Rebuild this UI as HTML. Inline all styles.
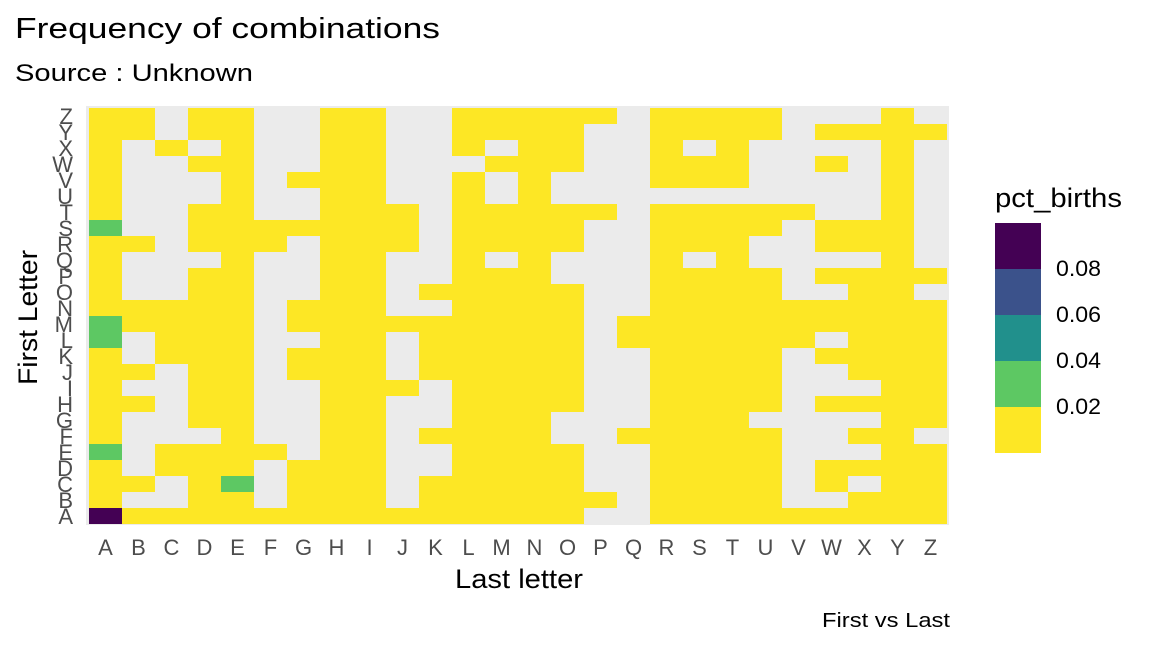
<!DOCTYPE html>
<html><head><meta charset="utf-8">
<style>
html,body{margin:0;padding:0;background:#fff;}
svg{display:block;font-family:"Liberation Sans",sans-serif;}
</style></head>
<body>
<svg id="chart" width="1152" height="648" viewBox="0 0 1152 648" xmlns="http://www.w3.org/2000/svg">
<text x="15" y="38" font-size="29" textLength="425" lengthAdjust="spacingAndGlyphs" fill="#000">Frequency of combinations</text>
<text x="15" y="81" font-size="24" textLength="238" lengthAdjust="spacingAndGlyphs" fill="#000">Source : Unknown</text>
<rect x="86" y="106" width="863" height="419" fill="#ebebeb"/>
<g id="cells"></g>
<g id="xticks"></g>
<g id="yticks"></g>
<text x="455" y="588" font-size="27" textLength="128" lengthAdjust="spacingAndGlyphs" fill="#000">Last letter</text>
<text transform="translate(37,385) rotate(-90)" font-size="27" textLength="135" lengthAdjust="spacingAndGlyphs" fill="#000">First Letter</text>
<text x="822" y="627" font-size="20" textLength="128" lengthAdjust="spacingAndGlyphs" fill="#000">First vs Last</text>
<text x="995" y="207" font-size="27" textLength="127" lengthAdjust="spacingAndGlyphs" fill="#000">pct_births</text>
<g id="legend"></g>
</svg>
<script>
const letters = ["A","B","C","D","E","F","G","H","I","J","K","L","M","N","O","P","Q","R","S","T","U","V","W","X","Y","Z"];
const legendBreaks = [0.02,0.04,0.06,0.08];
const legendLabels = ["0.02","0.04","0.06","0.08"];
const binColors = ["#fde725","#5dc863","#21908c","#3b528b","#440154"];
const y = 0.008, g = 0.03, p = 0.095, n = null;
// values[first letter][last letter]
const values = {
A:[p,y,y,y,y,y,y,y,y,y,y,y,y,y,y,n,n,y,y,y,y,y,y,y,y,y],
B:[y,n,n,y,y,n,y,y,y,n,y,y,y,y,y,y,n,y,y,y,y,n,n,y,y,y],
C:[y,y,n,y,g,n,y,y,y,n,y,y,y,y,y,n,n,y,y,y,y,n,y,n,y,y],
D:[y,n,y,y,y,n,y,y,y,n,n,y,y,y,y,n,n,y,y,y,y,n,y,y,y,y],
E:[g,n,y,y,y,y,n,y,y,n,n,y,y,y,y,n,n,y,y,y,y,n,n,n,y,y],
F:[y,n,n,n,y,n,n,y,y,n,y,y,y,y,n,n,y,y,y,y,y,n,n,y,y,n],
G:[y,n,n,y,y,n,n,y,y,n,n,y,y,y,n,n,n,y,y,y,n,n,n,n,y,y],
H:[y,y,n,y,y,n,n,y,y,n,n,y,y,y,y,n,n,y,y,y,y,n,y,y,y,y],
I:[y,n,n,y,y,n,n,y,y,y,n,y,y,y,y,n,n,y,y,y,y,n,n,n,y,y],
J:[y,y,n,y,y,n,y,y,y,n,y,y,y,y,y,n,n,y,y,y,y,n,n,y,y,y],
K:[y,n,y,y,y,n,y,y,y,n,y,y,y,y,y,n,n,y,y,y,y,n,y,y,y,y],
L:[g,n,y,y,y,n,n,y,y,n,y,y,y,y,y,n,y,y,y,y,y,y,n,y,y,y],
M:[g,y,y,y,y,n,y,y,y,y,y,y,y,y,y,n,y,y,y,y,y,y,y,y,y,y],
N:[y,y,y,y,y,n,y,y,y,n,n,y,y,y,y,n,n,y,y,y,y,y,y,y,y,y],
O:[y,n,n,y,y,n,n,y,y,n,y,y,y,y,y,n,n,y,y,y,y,n,n,y,y,n],
P:[y,n,n,y,y,n,n,y,y,n,n,y,y,y,n,n,n,y,y,y,y,n,y,y,y,y],
Q:[y,n,n,n,y,n,n,y,y,n,n,y,n,y,n,n,n,y,n,y,n,n,n,n,y,n],
R:[y,y,n,y,y,y,n,y,y,y,n,y,y,y,y,n,n,y,y,y,n,n,y,y,y,n],
S:[g,n,n,y,y,y,y,y,y,y,n,y,y,y,y,n,n,y,y,y,y,n,y,y,y,n],
T:[y,n,n,y,y,n,n,y,y,y,n,y,y,y,y,y,n,y,y,y,y,y,n,n,y,n],
U:[y,n,n,n,y,n,n,y,y,n,n,y,n,y,n,n,n,n,n,n,n,n,n,n,y,n],
V:[y,n,n,n,y,n,y,y,y,n,n,y,n,y,n,n,n,y,y,y,n,n,n,n,y,n],
W:[y,n,n,y,y,n,n,y,y,n,n,n,y,y,y,n,n,y,y,y,n,n,y,n,y,n],
X:[y,n,y,n,y,n,n,y,y,n,n,y,n,y,y,n,n,y,n,y,n,n,n,n,y,n],
Y:[y,y,n,y,y,n,n,y,y,n,n,y,y,y,y,n,n,y,y,y,y,n,y,y,y,y],
Z:[y,y,n,y,y,n,n,y,y,n,n,y,y,y,y,y,n,y,y,y,y,n,n,n,y,n]
};
const NS = "http://www.w3.org/2000/svg";
const x0 = 89, cw = 33, yTop = 108, rh = 16;
function xPos(i){ return x0 + i*cw; }
function yPos(j){ return yTop + (25-j)*rh; }
function colorFor(v){
  let b = 0;
  while (b < legendBreaks.length && v >= legendBreaks[b]) b++;
  return binColors[b];
}
const cells = document.getElementById('cells');
letters.forEach((fl, j) => {
  values[fl].forEach((v, i) => {
    if (v === null) return;
    const r = document.createElementNS(NS, 'rect');
    r.setAttribute('x', xPos(i)); r.setAttribute('y', yPos(j));
    r.setAttribute('width', cw); r.setAttribute('height', rh);
    r.setAttribute('fill', colorFor(v));
    
    
    cells.appendChild(r);
  });
});
const xt = document.getElementById('xticks');
letters.forEach((l, i) => {
  const t = document.createElementNS(NS, 'text');
  t.setAttribute('x', xPos(i) + cw/2); t.setAttribute('y', 555);
  t.setAttribute('font-size', '22'); t.setAttribute('text-anchor', 'middle');
  t.setAttribute('fill', '#4d4d4d'); t.textContent = l;
  
  
  xt.appendChild(t);
});
const yt = document.getElementById('yticks');
letters.forEach((l, j) => {
  const t = document.createElementNS(NS, 'text');
  t.setAttribute('x', 73); t.setAttribute('y', yPos(j) + rh/2 + 8);
  t.setAttribute('font-size', '22'); t.setAttribute('text-anchor', 'end');
  t.setAttribute('fill', '#4d4d4d'); t.textContent = l;
  
  
  yt.appendChild(t);
});
const lg = document.getElementById('legend');
const lx = 995, ly = 223, lh = 46;
binColors.slice().reverse().forEach((c, k) => {
  const r = document.createElementNS(NS, 'rect');
  r.setAttribute('x', lx); r.setAttribute('y', ly + k*lh);
  r.setAttribute('width', 46); r.setAttribute('height', lh);
  r.setAttribute('fill', c);
  
  
  lg.appendChild(r);
});
legendLabels.forEach((lab, k) => {
  const t = document.createElementNS(NS, 'text');
  t.setAttribute('x', 1056); t.setAttribute('y', ly + (4-k)*lh + 7);
  t.setAttribute('font-size', '22'); t.setAttribute('fill', '#000');
  t.setAttribute('textLength', '45'); t.setAttribute('lengthAdjust', 'spacingAndGlyphs');
  t.textContent = lab;
  
  
  lg.appendChild(t);
});
</script>
</body></html>
